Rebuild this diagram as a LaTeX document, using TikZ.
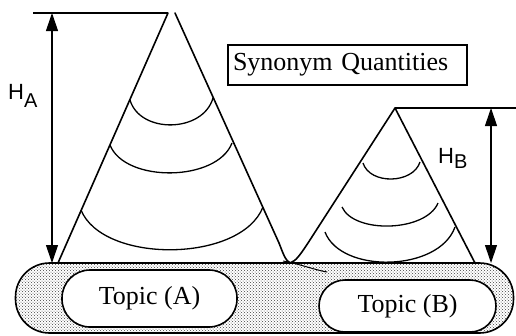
\documentclass[tikz,border=0pt]{standalone}
\usepackage{fontspec}
\setmainfont{Liberation Serif}
\newfontfamily\hfont{Liberation Sans}
\usetikzlibrary{arrows.meta,patterns}
\begin{document}
\begin{tikzpicture}[x=1pt,y=-1pt,
  cone/.style={line width=1.6pt,line cap=round,line join=round},
  ring/.style={line width=1.3pt},
  refline/.style={line width=1.1pt},
  harrow/.style={line width=1.1pt,{Triangle[length=18pt,width=12pt]}-{Triangle[length=18pt,width=12pt]}},
  topic/.style={draw,line width=1.6pt,fill=white,inner sep=0pt,
    font=\fontsize{26}{28}\selectfont},
  hlab/.style={inner sep=0pt,font=\hfont\fontsize{22}{24}\selectfont}]
\useasboundingbox (0,0) rectangle (516,335);
% base band
\node[draw,line width=1.6pt,rounded corners=34pt,minimum width=498pt,minimum height=70pt,
  pattern=crosshatch dots,pattern color=black!75,inner sep=0pt] (band) at (264.5,298) {};
\node[topic,rounded corners=28pt,minimum width=175pt,minimum height=57pt] (ta) at (149.5,298.5) {Topic (A)};
\node[topic,rounded corners=26pt,minimum width=177pt,minimum height=52pt] (tb) at (407.5,306) {Topic (B)};
% coordinates
\coordinate (pAl) at (168,13);
\coordinate (pAr) at (175,13);
\coordinate (bAl) at (58,263);
\coordinate (vAr) at (279,243);
\coordinate (valley) at (290,263);
\coordinate (pB) at (395,108);
\coordinate (vBl) at (308,243);
\coordinate (bBr) at (475,263);
\coordinate (refA) at (33,13);
\coordinate (refB) at (516,108);
\coordinate (sq1) at (283,261);
\coordinate (sq2) at (327,272);
% cones
\draw[cone] (pAl) -- (bAl);
\draw[cone] (pAr) -- (vAr) .. controls (283,253) and (285,260) .. (valley);
\draw[cone] (pB) -- (vBl) .. controls (300,255) and (296,261) .. (valley);
\draw[cone] (pB) -- (bBr);
\draw[line width=1pt] (sq1) .. controls (300,264) and (315,270) .. (sq2);
% reference lines
\draw[refline] (refA) -- (pAl);
\draw[refline] (pB) -- (refB);
% rings of cone A
\coordinate (a1l) at (130,100); \coordinate (a1r) at (213,98);
\coordinate (a2l) at (110,145); \coordinate (a2r) at (232,143);
\coordinate (a3l) at (81,210);  \coordinate (a3r) at (263,207);
\draw[ring] (a1l) .. controls (140,134) and (203,133) .. (a1r);
\draw[ring] (a2l) .. controls (125,183) and (217,182) .. (a2r);
\draw[ring] (a3l) .. controls (103,264) and (241,263) .. (a3r);
% rings of cone B
\coordinate (b1l) at (363,163); \coordinate (b1r) at (420,162);
\coordinate (b2l) at (342,207); \coordinate (b2r) at (438,203);
\coordinate (b3l) at (325,232); \coordinate (b3r) at (455,227);
\draw[ring] (b1l) .. controls (370,185) and (413,184) .. (b1r);
\draw[ring] (b2l) .. controls (354,234) and (426,232) .. (b2r);
\draw[ring] (b3l) .. controls (341,274) and (439,272) .. (b3r);
% height arrows
\coordinate (hAt) at (52,13); \coordinate (hAb) at (52,263);
\coordinate (hBt) at (491,108); \coordinate (hBb) at (491,263);
\draw[harrow] (hAt) -- (hAb);
\draw[harrow] (hBt) -- (hBb);
\node[hlab,anchor=base west] (la) at (8,99) {H\raisebox{-8pt}{\fontsize{20}{22}\selectfont A}};
\node[hlab,anchor=base west] (lb) at (438,163) {H\raisebox{-5pt}{\fontsize{20}{22}\selectfont B}};
% title box
\node[draw,line width=1.1pt,text width=229pt,align=left,inner xsep=5pt,minimum height=40pt,
  font=\fontsize{26}{28}\selectfont] (syn) at (347.5,65) {Synonym Quantities};
\end{tikzpicture}
\end{document}
